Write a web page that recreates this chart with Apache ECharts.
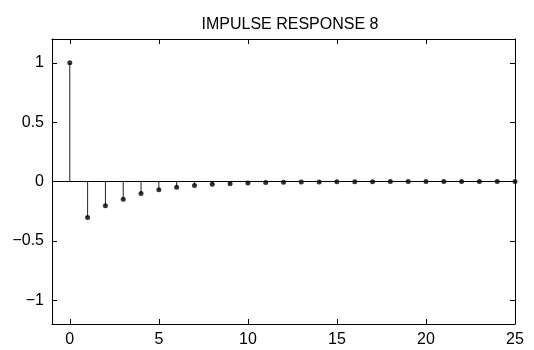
<!DOCTYPE html>
<html>
<head>
<meta charset="utf-8">
<title>Impulse response 8</title>
<script src="https://cdn.jsdelivr.net/npm/echarts@6/dist/echarts.min.js"></script>
<style>
  html, body { margin: 0; padding: 0; background: #fff; }
  #chart { width: 534px; height: 350px; }
</style>
</head>
<body>
<div id="chart"></div>
<script>
// lag index and response value
const lags = [0, 1, 2, 3, 4, 5, 6, 7, 8, 9, 10, 11, 12, 13, 14, 15, 16, 17, 18, 19, 20, 21, 22, 23, 24, 25];
const response = [1, -0.303, -0.205, -0.149, -0.101, -0.07, -0.048, -0.034, -0.023, -0.018, -0.013, -0.009,
  -0.007, -0.005, -0.004, -0.003, -0.002, -0.002, -0.001, -0.001, -0.001, 0, 0, 0, 0, 0];
const xTicks = [0, 5, 10, 15, 20, 25];
const yTicks = [-1, -0.5, 0, 0.5, 1];

const points = lags.map((x, i) => [x, response[i]]);
const font = 'Liberation Sans, Arial, Helvetica, sans-serif';

const boxAxis = (extra) => Object.assign({
  type: 'value',
  axisLine: { show: true, onZero: false, lineStyle: { color: '#000', width: 1 } },
  axisTick: { show: true, inside: true, length: 5, lineStyle: { color: '#000', width: 1 } },
  splitLine: { show: false },
  axisLabel: { show: false }
}, extra);

const chart = echarts.init(document.getElementById('chart'), null, { renderer: 'canvas' });

chart.setOption({
  animation: false,
  backgroundColor: '#fff',
  title: {
    text: 'IMPULSE RESPONSE 8',
    left: 285,
    textAlign: 'center',
    top: 12,
    textStyle: { fontFamily: font, fontSize: 16, fontWeight: 'normal', color: '#000' }
  },
  grid: { left: 52, right: 19, top: 39, bottom: 26 },
  xAxis: [
    boxAxis({
      min: -1, max: 25, position: 'bottom',
      axisTick: { show: true, inside: true, length: 5, customValues: xTicks, lineStyle: { color: '#000' } },
      axisLabel: {
        show: true, customValues: xTicks, margin: 8,
        fontFamily: font, fontSize: 16, color: '#000'
      }
    }),
    boxAxis({
      min: -1, max: 25, position: 'top',
      axisTick: { show: true, inside: true, length: 5, customValues: xTicks, lineStyle: { color: '#000' } }
    })
  ],
  yAxis: [
    boxAxis({
      min: -1.2, max: 1.2, position: 'left',
      axisTick: { show: true, inside: true, length: 5, customValues: yTicks, lineStyle: { color: '#000' } },
      axisLabel: {
        show: true, customValues: yTicks, margin: 8,
        fontFamily: font, fontSize: 16, color: '#000',
        formatter: v => String(v).replace('-', '\u2212')
      }
    }),
    boxAxis({
      min: -1.2, max: 1.2, position: 'right',
      axisTick: { show: true, inside: true, length: 5, customValues: yTicks, lineStyle: { color: '#000' } }
    })
  ],
  series: [
    {
      // stems
      type: 'custom',
      data: points,
      renderItem: (params, api) => {
        const top = api.coord([api.value(0), api.value(1)]);
        const base = api.coord([api.value(0), 0]);
        return {
          type: 'line',
          shape: { x1: base[0], y1: base[1], x2: top[0], y2: top[1] },
          style: { stroke: '#222', lineWidth: 1 }
        };
      },
      markLine: {
        silent: true,
        symbol: 'none',
        label: { show: false },
        lineStyle: { color: '#000', width: 1, type: 'solid' },
        data: [{ yAxis: 0 }]
      },
      z: 2
    },
    {
      // heads
      type: 'scatter',
      data: points,
      symbol: 'circle',
      symbolSize: 5,
      itemStyle: { color: '#000' },
      z: 3
    }
  ]
});
</script>
</body>
</html>
